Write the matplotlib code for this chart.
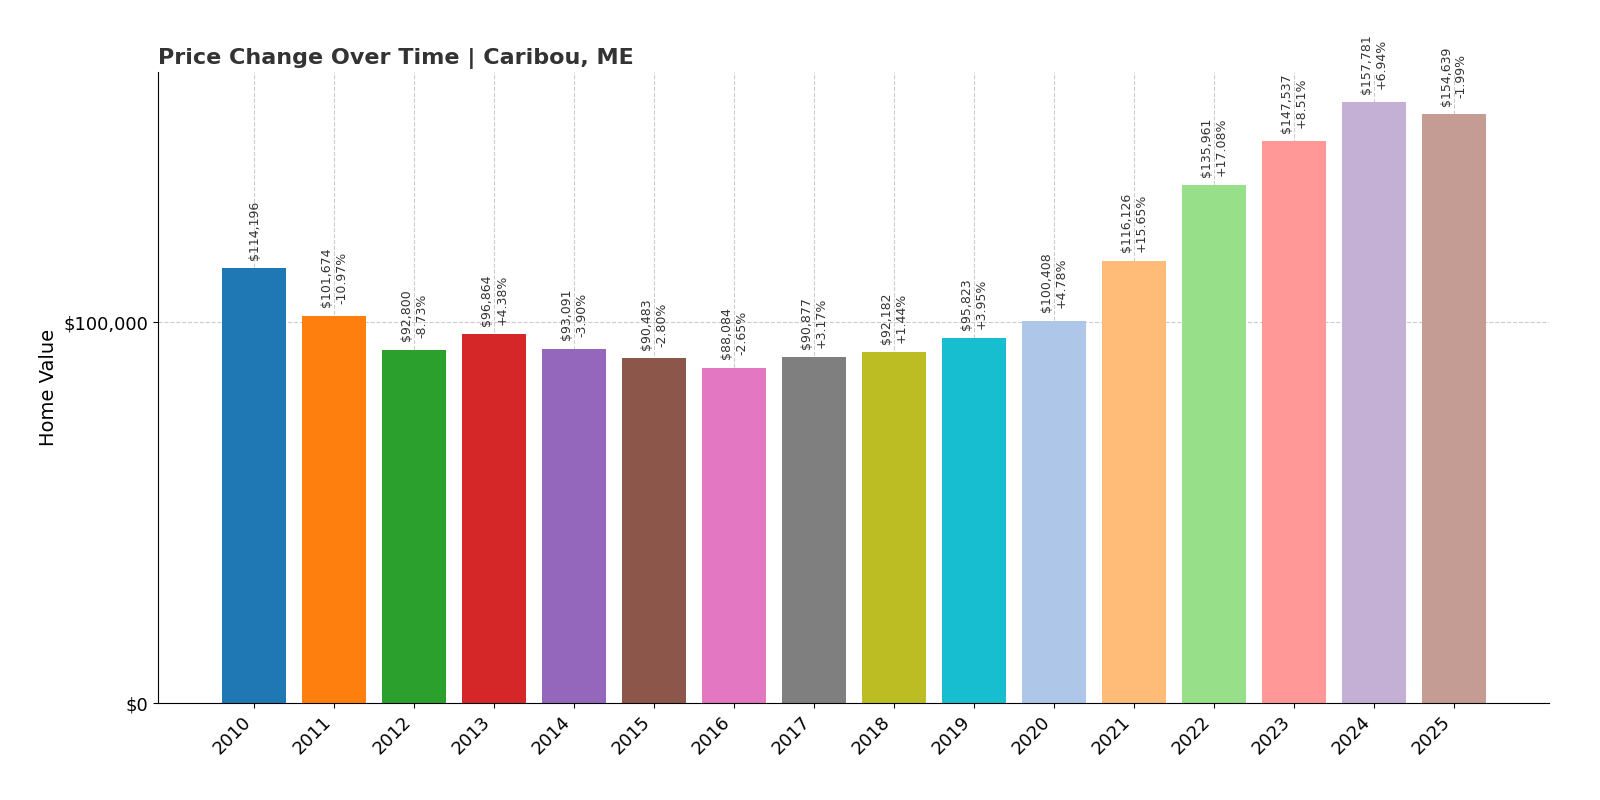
import matplotlib.pyplot as plt

years = [str(y) for y in range(2010, 2026)]
values = [114196, 101674, 92800, 96864, 93091, 90483, 88084, 90877,
          92182, 95823, 100408, 116126, 135961, 147537, 157781, 154639]
changes = [None, "-10.97%", "-8.73%", "+4.38%", "-3.90%", "-2.80%", "-2.65%", "+3.17%",
           "+1.44%", "+3.95%", "+4.78%", "+15.65%", "+17.08%", "+8.51%", "+6.94%", "-1.99%"]
colors = ["#1f77b4", "#ff7f0e", "#2ca02c", "#d62728", "#9467bd", "#8c564b", "#e377c2", "#7f7f7f",
          "#bcbd22", "#17becf", "#aec7e8", "#ffbb78", "#98df8a", "#ff9896", "#c5b0d5", "#c49c94"]

fig, ax = plt.subplots(figsize=(16, 8), dpi=100)
fig.subplots_adjust(left=0.099, right=0.968, top=0.91, bottom=0.121)

x = range(len(years))
ax.bar(x, values, width=0.8, color=colors, zorder=2)

for i, v in enumerate(values):
    label = f"${v:,}" if changes[i] is None else f"${v:,}\n{changes[i]}"
    ax.annotate(label, (i, v), xytext=(0, 6), textcoords="offset points",
                rotation=90, ha="center", va="bottom", fontsize=9, color="#333333")

ax.set_xticks(list(x))
ax.set_xticklabels(years, rotation=45, ha="right", fontsize=13)
ax.set_yticks([0, 100000])
ax.set_yticklabels(["$0", "$100,000"], fontsize=13)
ax.set_ylim(0, max(values) * 1.05)
ax.set_xlim(-1.2, 16.19)
ax.set_ylabel("Home Value", fontsize=14)
ax.set_title("Price Change Over Time | Caribou, ME", loc="left", fontsize=16,
             fontweight="bold", color="#333333")
ax.grid(True, linestyle="--", color="#cccccc", linewidth=0.8, zorder=0)
ax.spines["top"].set_visible(False)
ax.spines["right"].set_visible(False)

plt.savefig("out.png")
